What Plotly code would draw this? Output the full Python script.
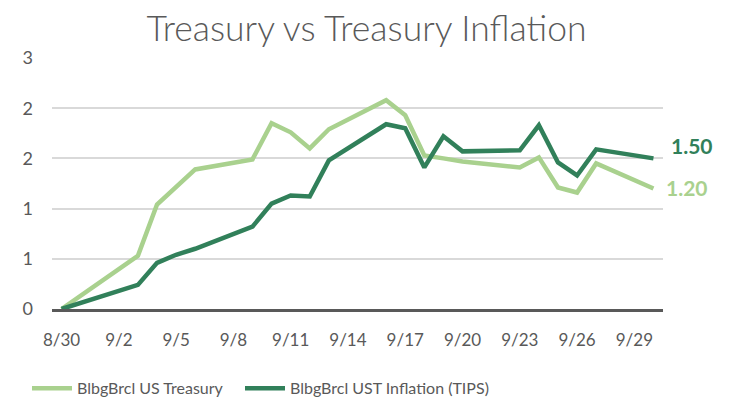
import plotly.graph_objects as go

dates = ["2024-08-30", "2024-09-03", "2024-09-04", "2024-09-05", "2024-09-06",
         "2024-09-09", "2024-09-10", "2024-09-11", "2024-09-12", "2024-09-13",
         "2024-09-16", "2024-09-17", "2024-09-18", "2024-09-19", "2024-09-20",
         "2024-09-23", "2024-09-24", "2024-09-25", "2024-09-26", "2024-09-27",
         "2024-09-30"]

treasury = [0, 0.53, 1.04, 1.21, 1.39, 1.49, 1.85, 1.76, 1.60, 1.79,
            2.08, 1.93, 1.53, 1.50, 1.47, 1.41, 1.51, 1.21, 1.16, 1.45, 1.20]

tips = [0, 0.24, 0.46, 0.54, 0.60, 0.82, 1.05, 1.13, 1.12, 1.48,
        1.84, 1.80, 1.41, 1.72, 1.57, 1.58, 1.83, 1.46, 1.33, 1.59, 1.50]

series_names = ["BlbgBrcl US Treasury", "BlbgBrcl UST Inflation (TIPS)"]
end_labels = ["1.20", "1.50"]

x_tickvals = ["2024-08-30", "2024-09-02", "2024-09-05", "2024-09-08", "2024-09-11",
              "2024-09-14", "2024-09-17", "2024-09-20", "2024-09-23", "2024-09-26",
              "2024-09-29"]
x_ticktext = ["8/30", "9/2", "9/5", "9/8", "9/11", "9/14", "9/17", "9/20", "9/23",
              "9/26", "9/29"]

y_tickvals = [0, 0.5, 1.0, 1.5, 2.0, 2.5]
y_ticktext = ["0", "1", "1", "2", "2", "3"]

LIGHT = "#A9D18E"
DARK = "#31805A"
GRAY = "#595959"
FONT = "Lato"

fig = go.Figure()
fig.add_trace(go.Scatter(x=dates, y=treasury, mode="lines", name=series_names[0],
                         line=dict(color=LIGHT, width=4.5), legend="legend"))
fig.add_trace(go.Scatter(x=dates, y=tips, mode="lines", name=series_names[1],
                         line=dict(color=DARK, width=4.5), legend="legend2"))

fig.add_annotation(x=dates[-1], y=tips[-1], text="<b>" + end_labels[1] + "</b>",
                   showarrow=False, xanchor="left", yanchor="middle", xshift=16, yshift=12.5,
                   font=dict(family=FONT, size=21, color=DARK))
fig.add_annotation(x=dates[-1], y=treasury[-1], text="<b>" + end_labels[0] + "</b>",
                   showarrow=False, xanchor="left", yanchor="middle", xshift=11, yshift=1,
                   font=dict(family=FONT, size=21, color=LIGHT))

legend_common = dict(orientation="h", xref="container", yref="container",
                     xanchor="left", yanchor="middle", itemwidth=40,
                     font=dict(family=FONT, size=16, color=GRAY),
                     bgcolor="rgba(0,0,0,0)")

fig.update_layout(
    width=733, height=410,
    margin=dict(l=52, r=70, t=58, b=101),
    paper_bgcolor="white", plot_bgcolor="white",
    font=dict(family=FONT, color=GRAY),
    title=dict(text="Treasury vs Treasury Inflation", x=0.5, xanchor="center",
               y=0.93, yanchor="middle", yref="container",
               font=dict(family=FONT, size=35.5, color=GRAY, weight=300)),
    showlegend=True,
    legend=dict(x=27 / 733, y=0.053, **legend_common),
    legend2=dict(x=240 / 733, y=0.053, **legend_common),
    xaxis=dict(type="date", range=["2024-08-29 12:00", "2024-09-30 12:00"],
               tickvals=x_tickvals, ticktext=x_ticktext,
               showgrid=False, showline=True, linecolor=GRAY, linewidth=2.5,
               ticks="", ticklabelstandoff=14,
               tickfont=dict(family=FONT, size=17, color=GRAY), zeroline=False),
    yaxis=dict(range=[0, 2.5], tickvals=y_tickvals, ticktext=y_ticktext,
               showgrid=True, gridcolor="#D9D9D9", gridwidth=1.5,
               showline=False, zeroline=False, ticks="", ticklabelstandoff=18,
               tickfont=dict(family=FONT, size=18, color=GRAY)),
)

fig.write_html("out.html", config={"displayModeBar": False},
               post_script="document.body.style.margin='0';")
